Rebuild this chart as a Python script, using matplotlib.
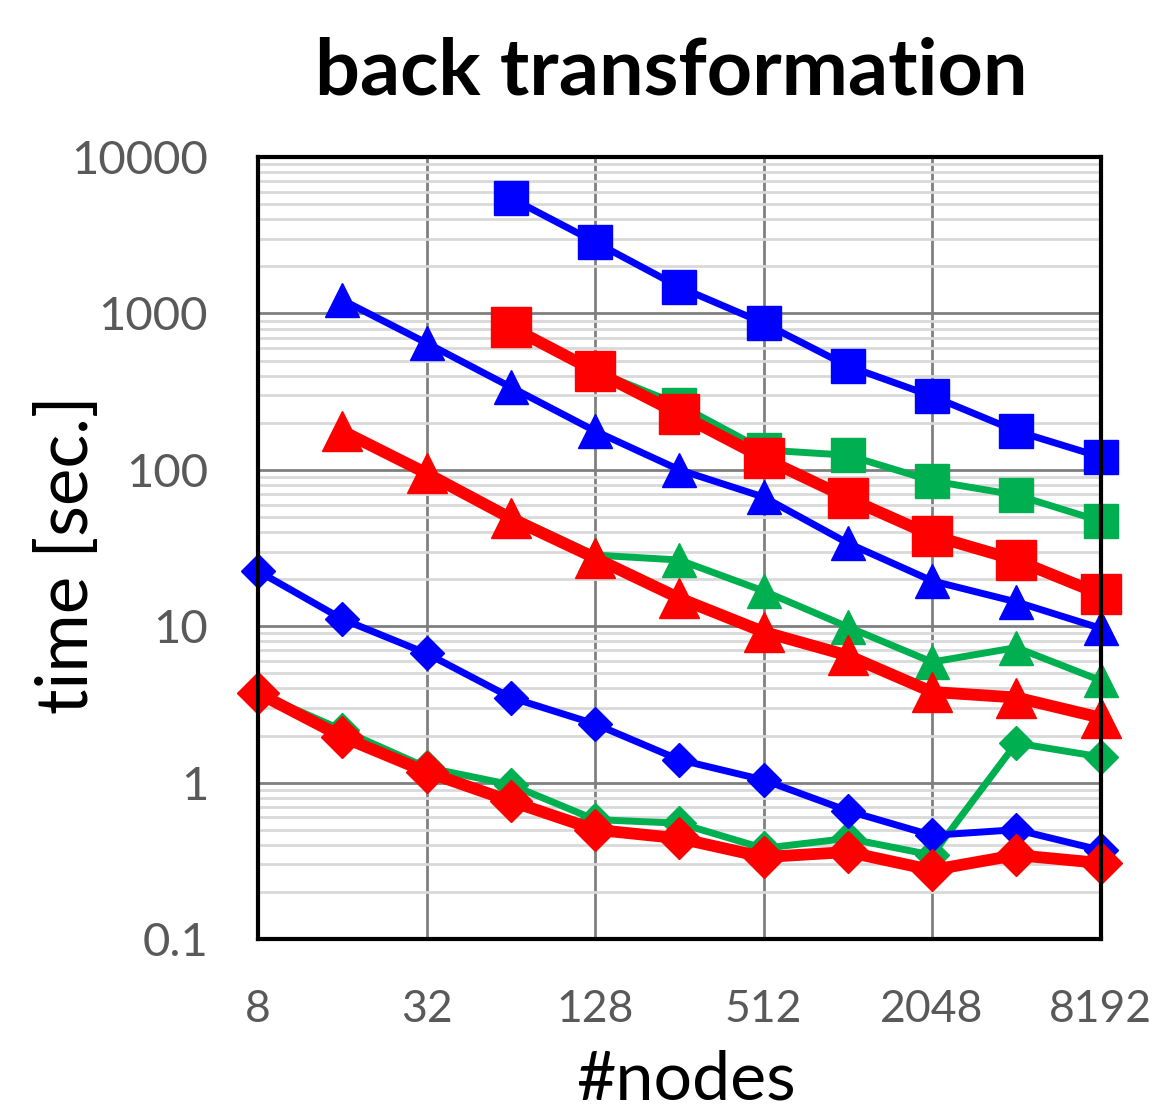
import matplotlib
matplotlib.use("Agg")
import matplotlib.pyplot as plt
from matplotlib.ticker import FixedLocator, NullFormatter, LogLocator

plt.rcParams['font.family'] = ['Lato', 'DejaVu Sans']

nodes = [8, 16, 32, 64, 128, 256, 512, 1024, 2048, 4096, 8192]

blue_sq = [None, None, None, 5470, 2860, 1475, 868, 461, 296, 177, 121]
blue_tri = [None, 1218, 647, 338, 177, 100, 67, 34, 19.5, 14.3, 9.7]
blue_dia = [22.5, 11.1, 6.7, 3.5, 2.37, 1.40, 1.04, 0.66, 0.46, 0.50, 0.37]

green_sq = [None, None, None, 810, 430, 260, 134, 124, 85, 69, 47]
green_tri = [None, 180, 97, 51, 28.5, 26.5, 16.8, 9.9, 5.9, 7.3, 4.5]
green_dia = [3.74, 2.17, 1.25, 0.97, 0.58, 0.55, 0.38, 0.44, 0.344, 1.79, 1.46]

red_sq = [None, None, None, 818, 428, 227, 119, 66, 38, 26.5, 16]
red_tri = [None, 177, 95, 49, 27.3, 15.1, 9.2, 6.5, 3.8, 3.5, 2.6]
red_dia = [3.74, 1.96, 1.17, 0.76, 0.50, 0.44, 0.334, 0.36, 0.276, 0.344, 0.306]

x_ticks = [8, 32, 128, 512, 2048, 8192]
y_ticks = [0.1, 1, 10, 100, 1000, 10000]
y_ticklabels = ['0.1', '1', '10', '100', '1000', '10000']

BLUE = '#0000ff'
GREEN = '#00b050'
RED = '#ff0000'


def pts(vals):
    xs = [n for n, v in zip(nodes, vals) if v is not None]
    ys = [v for v in vals if v is not None]
    return xs, ys


fig = plt.figure(figsize=(11.52, 11.09), dpi=100)
ax = fig.add_axes([0.224, 0.1533, 0.7313, 0.7051])
ax.set_xscale('log', base=2)
ax.set_yscale('log')
ax.set_xlim(8, 8192)
ax.set_ylim(0.1, 10000)

# grid
ax.yaxis.set_major_locator(FixedLocator(y_ticks))
ax.yaxis.set_minor_locator(LogLocator(base=10, subs=range(2, 10), numticks=20))
ax.yaxis.set_minor_formatter(NullFormatter())
ax.xaxis.set_major_locator(FixedLocator(x_ticks))
ax.xaxis.set_minor_locator(FixedLocator([]))
ax.grid(True, which='minor', axis='y', color='#d9d9d9', linewidth=2.0, zorder=0)
ax.grid(True, which='major', axis='y', color='#808080', linewidth=2.0, zorder=0.5)
ax.grid(True, which='major', axis='x', color='#808080', linewidth=2.0, zorder=0.5)
ax.set_axisbelow(True)

ax.set_yticklabels(y_ticklabels)
ax.set_xticklabels([str(t) for t in x_ticks])
ax.tick_params(axis='both', which='both', length=0, labelcolor='#595959')
ax.tick_params(axis='y', pad=36, labelsize=34)
ax.tick_params(axis='x', pad=36, labelsize=32)

for s in ax.spines.values():
    s.set_linewidth(3.0)
    s.set_color('black')
    s.set_zorder(10)

# green series
for vals, m, ms in [(green_sq, 's', 24), (green_tri, '^', 24), (green_dia, 'D', 17)]:
    xs, ys = pts(vals)
    ax.plot(xs, ys, color=GREEN, marker=m, markersize=ms, linewidth=5.0,
            markeredgecolor=GREEN, zorder=3, clip_on=False)

# blue series
for vals, m, ms in [(blue_sq, 's', 24), (blue_tri, '^', 24), (blue_dia, 'D', 17)]:
    xs, ys = pts(vals)
    ax.plot(xs, ys, color=BLUE, marker=m, markersize=ms, linewidth=5.0,
            markeredgecolor=BLUE, zorder=4, clip_on=False)

# red series
for vals, m, ms in [(red_sq, 's', 29.5), (red_tri, '^', 29.5), (red_dia, 'D', 21)]:
    xs, ys = pts(vals)
    ax.plot(xs, ys, color=RED, marker=m, markersize=ms, linewidth=8.5,
            markeredgecolor=RED, zorder=5, clip_on=False)

fig.text(0.5825, 0.935, 'back transformation', ha='center', va='center',
         fontsize=57, fontweight='bold', color='black')
fig.text(0.059, 0.500, 'time [sec.]', ha='center', va='center', rotation=90,
         fontsize=51, color='black')
fig.text(0.5955, 0.026, '#nodes', ha='center', va='center',
         fontsize=49, color='black')

fig.savefig('out.png', dpi=100)
